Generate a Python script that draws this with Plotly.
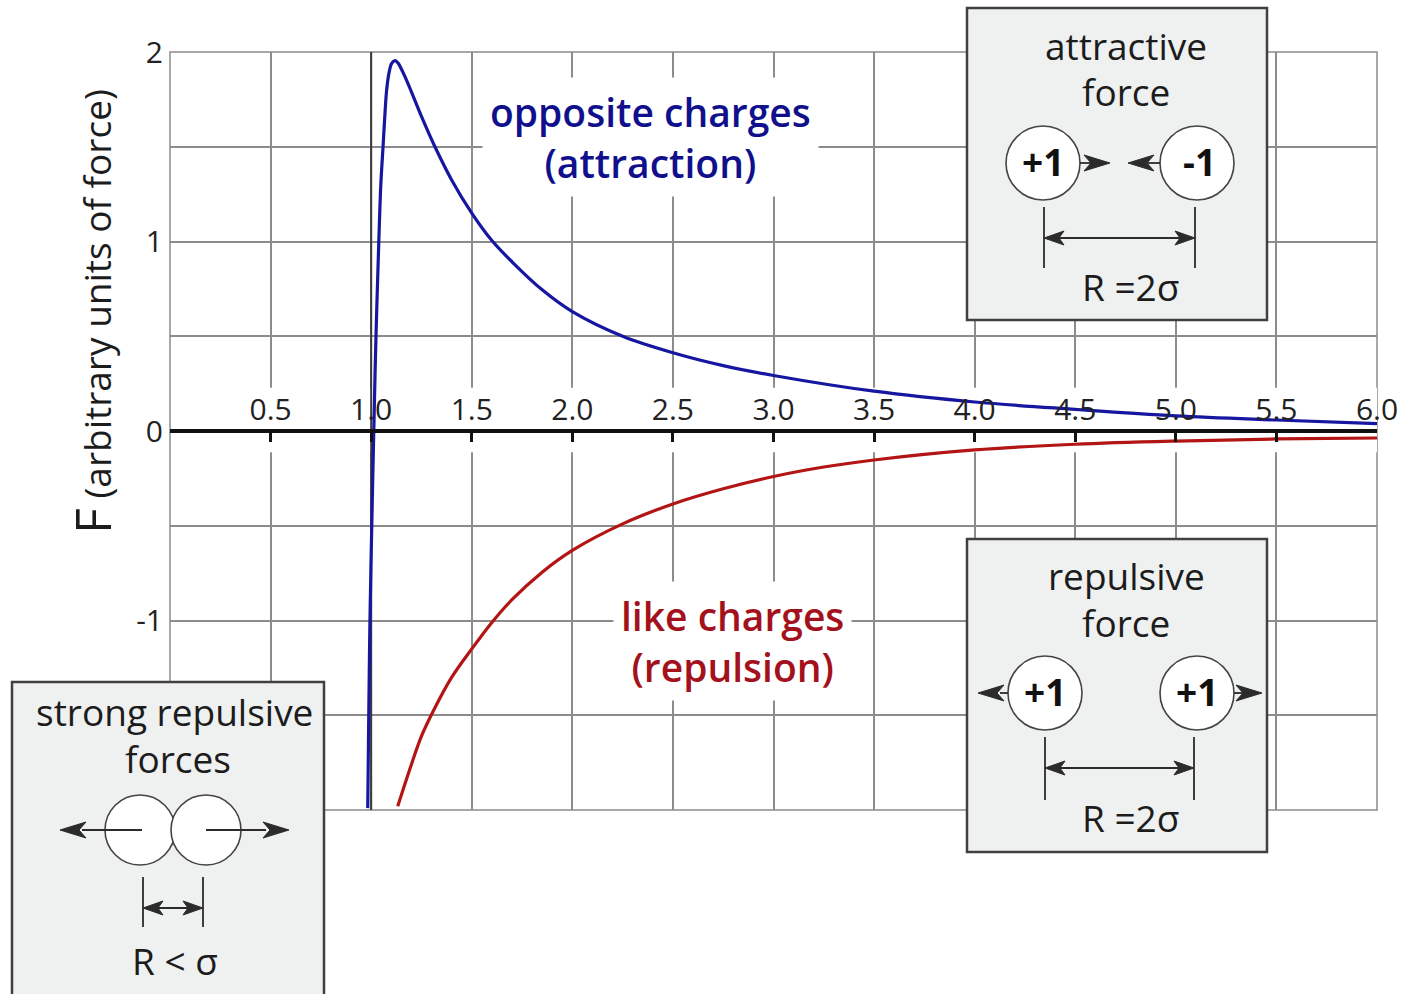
import plotly.graph_objects as go

# ---------------- data ----------------
blue_r = [0.983, 0.988, 0.994, 1.003, 1.013, 1.024, 1.038, 1.048, 1.059, 1.070, 1.077,
          1.088, 1.102, 1.118, 1.135, 1.150, 1.168, 1.200, 1.250, 1.317, 1.400, 1.500,
          1.600, 1.700, 1.850, 2.000, 2.250, 2.500, 2.750, 3.000, 3.500, 4.000, 4.500,
          5.000, 5.500, 6.000]
blue_F = [-1.99, -1.50, -1.00, -0.50, 0.00, 0.50, 1.00, 1.30, 1.50, 1.70, 1.80,
          1.886, 1.940, 1.955, 1.940, 1.910, 1.870, 1.790, 1.660, 1.500, 1.325, 1.150,
          1.005, 0.893, 0.745, 0.630, 0.500, 0.413, 0.345, 0.293, 0.210, 0.153, 0.114,
          0.080, 0.058, 0.039]

red_r = [1.132, 1.200, 1.250, 1.317, 1.400, 1.500, 1.600, 1.700, 1.850, 2.000, 2.250,
         2.500, 2.750, 3.000, 3.250, 3.500, 4.000, 4.500, 5.000, 5.500, 6.000]
red_F = [-1.98, -1.76, -1.61, -1.46, -1.30, -1.15, -1.01, -0.89, -0.745, -0.63, -0.49,
         -0.385, -0.305, -0.24, -0.19, -0.153, -0.100, -0.070, -0.053, -0.042, -0.037]

x_ticks = [0.5, 1.0, 1.5, 2.0, 2.5, 3.0, 3.5, 4.0, 4.5, 5.0, 5.5, 6.0]
x_ticktext = ["0.5", "1.0", "1.5", "2.0", "2.5", "3.0", "3.5", "4.0", "4.5", "5.0", "5.5", "6.0"]
y_ticks = [-1, 0, 1, 2]
y_ticktext = ["-1", "0", "1", "2"]
y_minor = [-1.5, -0.5, 0.5, 1.5]

# ---------------- geometry helpers (page pixel coords) ----------------
W, H = 1403, 994
PL, PR, PT, PB = 170, 1377, 52, 810
ML, MT, MR, MB = PL, PT, W - PR, H - PB


def px(x):
    return (x - PL) / (PR - PL)


def py(y):
    return (PB - y) / (PB - PT)


GRID = "#8c8c8c"
INK = "#2b2b2b"
BOXFILL = "#eff1f1"
BLUE = "#1616a0"
BLUE_T = "#10108c"
RED = "#b31414"
RED_T = "#a3111c"
FONT = "Open Sans"

fig = go.Figure()
fig.add_trace(go.Scatter(x=blue_r, y=blue_F, mode="lines",
                         line=dict(color=BLUE, width=3.2, shape="spline", smoothing=1.0),
                         hoverinfo="skip", showlegend=False))
fig.add_trace(go.Scatter(x=red_r, y=red_F, mode="lines",
                         line=dict(color=RED, width=3.2, shape="spline", smoothing=1.0),
                         hoverinfo="skip", showlegend=False))

shapes = []
# white gaps in vertical grid lines around the tick labels
for t in x_ticks:
    shapes.append(dict(type="rect", xref="x", yref="y", x0=t - 0.03, x1=t + 0.03,
                       y0=-0.112, y1=0.228, fillcolor="white", line=dict(width=0),
                       layer="between"))
# frame
shapes.append(dict(type="rect", xref="paper", yref="paper", x0=0, x1=1, y0=0, y1=1,
                   line=dict(color=GRID, width=1.5), layer="between"))
# darker line at x = 1.0
shapes.append(dict(type="line", xref="x", yref="y", x0=1.0, x1=1.0, y0=-2, y1=2,
                   line=dict(color="#3a3a3a", width=2), layer="between"))


def pline(x0, y0, x1, y1, w=1.8):
    shapes.append(dict(type="line", xref="paper", yref="paper",
                       x0=px(x0), y0=py(y0), x1=px(x1), y1=py(y1),
                       line=dict(color=INK, width=w), layer="above"))


def head(tx, ty, d, L=22, Wd=8, notch=6):
    bx = tx - d * L
    nx = tx - d * (L - notch)
    pts = [(tx, ty), (bx, ty - Wd), (nx, ty), (bx, ty + Wd)]
    path = "M " + " L ".join(f"{px(a):.5f},{py(b):.5f}" for a, b in pts) + " Z"
    shapes.append(dict(type="path", xref="paper", yref="paper", path=path,
                       fillcolor=INK, line=dict(color=INK, width=1), layer="above"))


def circle(cx, cy, r):
    shapes.append(dict(type="circle", xref="paper", yref="paper",
                       x0=px(cx - r), x1=px(cx + r), y0=py(cy + r), y1=py(cy - r),
                       fillcolor="white", line=dict(color="#444444", width=1.6),
                       layer="above"))


def box(x0, y0, x1, y1):
    shapes.append(dict(type="rect", xref="paper", yref="paper",
                       x0=px(x0), x1=px(x1), y0=py(y1), y1=py(y0),
                       fillcolor=BOXFILL, line=dict(color="#404040", width=2.5),
                       layer="above"))


annotations = []


def text(x, y, s, size=37, bold=False, color="#1c1c1c"):
    annotations.append(dict(xref="paper", yref="paper", x=px(x), y=py(y), text=s,
                            showarrow=False, xanchor="center", yanchor="middle",
                            font=dict(family=FONT, size=size, color=color,
                                      weight="bold" if bold else "normal")))


def dimension(xa, xb, ytop, ybot, yarrow, L=20, Wd=7):
    pline(xa, ytop, xa, ybot)
    pline(xb, ytop, xb, ybot)
    pline(xa + 4, yarrow, xb - 4, yarrow)
    head(xa, yarrow, -1, L=L, Wd=Wd, notch=5)
    head(xb, yarrow, 1, L=L, Wd=Wd, notch=5)


# ---- top-right inset: attractive force ----
box(967, 8, 1267, 320)
text(1126, 45, "attractive")
text(1126, 92, "force")
circle(1043, 163, 37)
circle(1197, 163, 37)
text(1043, 161, "+1", size=37, bold=True, color="#111111")
text(1199, 161, "-1", size=37, bold=True, color="#111111")
pline(1080, 163, 1092, 163)
head(1110, 163, 1, L=26, Wd=8, notch=7)
pline(1148, 163, 1160, 163)
head(1128, 163, -1, L=26, Wd=8, notch=7)
dimension(1044, 1195, 207, 268, 238)
text(1130, 286, "R =2σ")

# ---- bottom-right inset: repulsive force ----
box(967, 539, 1267, 852)
text(1126, 575, "repulsive")
text(1126, 622, "force")
circle(1045, 693, 37)
circle(1197, 693, 37)
text(1045, 691, "+1", size=37, bold=True, color="#111111")
text(1197, 691, "+1", size=37, bold=True, color="#111111")
pline(1000, 693, 1008, 693)
head(978, 693, -1, L=26, Wd=8, notch=7)
pline(1234, 693, 1242, 693)
head(1262, 693, 1, L=26, Wd=8, notch=7)
dimension(1045, 1194, 737, 800, 768)
text(1130, 817, "R =2σ")

# ---- bottom-left inset: strong repulsive forces ----
box(12, 682, 324, 1010)
text(174, 711, "strong repulsive")
text(178, 758, "forces")
circle(140, 830, 35)
circle(206, 830, 35)
pline(142, 830, 82, 830)
head(60, 830, -1, L=26, Wd=8, notch=7)
pline(206, 830, 266, 830)
head(289, 830, 1, L=26, Wd=8, notch=7)
dimension(143, 203, 877, 927, 908)
text(175, 960, "R < σ")

# ---- curve labels ----
for s, xc, yc, col in [("opposite charges<br>(attraction)", 650, 137, BLUE_T),
                       ("like charges<br>(repulsion)", 732, 641, RED_T)]:
    annotations.append(dict(xref="paper", yref="paper", x=px(xc), y=py(yc), text=s,
                            showarrow=False, xanchor="center", yanchor="middle",
                            bgcolor="white", borderpad=7,
                            font=dict(family=FONT, size=39, color=col, weight=600)))

# ---- y-axis title ----
annotations.append(dict(xref="paper", yref="paper", x=px(92), y=py(312),
                        text='<span style="font-size:50px">F</span> (arbitrary units of force)',
                        textangle=-90, showarrow=False, xanchor="center", yanchor="middle",
                        font=dict(family=FONT, size=37, color="#1c1c1c")))

fig.update_layout(
    width=W, height=H,
    margin=dict(l=ML, r=MR, t=MT, b=MB, autoexpand=False),
    paper_bgcolor="white", plot_bgcolor="white",
    font=dict(family=FONT, color="#222222"),
    shapes=shapes, annotations=annotations,
    hovermode=False,
    xaxis=dict(range=[0, 6], tickvals=x_ticks, ticktext=x_ticktext,
               side="top", anchor="free", position=0.5,
               showgrid=True, gridcolor=GRID, gridwidth=1.5,
               ticks="inside", ticklen=9, tickwidth=3, tickcolor="#111111",
               showline=True, linecolor="#111111", linewidth=3.5,
               zeroline=False, ticklabelstandoff=-3,
               tickfont=dict(family=FONT, size=30, color="#222222"),
               fixedrange=True),
    yaxis=dict(range=[-2, 2], tickvals=y_ticks, ticktext=y_ticktext,
               showgrid=True, gridcolor=GRID, gridwidth=1.5,
               minor=dict(tickvals=y_minor, showgrid=True, gridcolor=GRID, gridwidth=1.5),
               ticks="", showline=False, zeroline=False, ticklabelstandoff=6,
               tickfont=dict(family=FONT, size=30, color="#222222"),
               fixedrange=True),
)

# remove the default 8px page margin so the figure fills the window exactly
fig.write_html("out.html", config={"displayModeBar": False},
               post_script="document.body.style.margin='0px';"
                           "document.body.style.overflow='hidden';")
